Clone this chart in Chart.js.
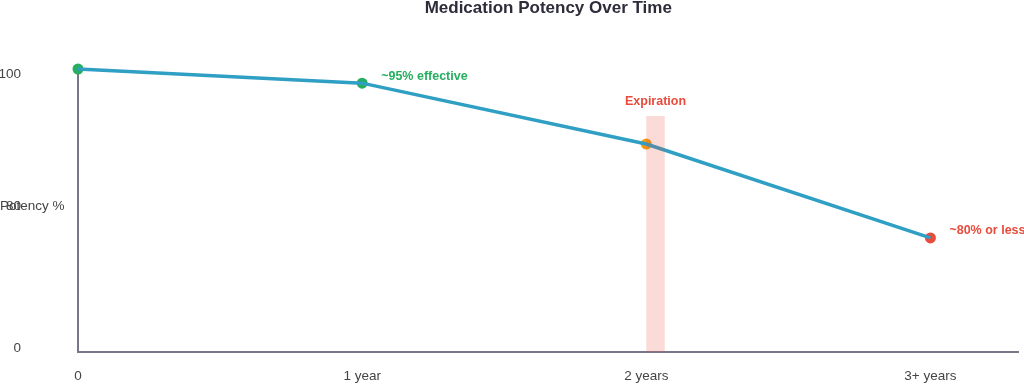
<!DOCTYPE html>
<html>
<head>
<meta charset="utf-8">
<script src="https://cdn.jsdelivr.net/npm/chart.js@4.4.0/dist/chart.umd.min.js"></script>
<style>
    html, body { margin: 0; padding: 0; background: #fff; overflow: hidden; }
    canvas { display: block; }
</style>
</head>
<body>
<canvas id="chart" width="1024" height="384"></canvas>
<script>
    // data
    var xLabels = ['0', '1 year', '2 years', '3+ years'];
    var xValues = [0, 1, 2, 3];
    var potency = [100, 95, 73.5, 40.3];
    var pointColors = ['#27ae60', '#27ae60', '#f39c12', '#e74c3c'];

    // y tick labels as they sit in the picture
    var yTickValues = [1.4, 51.6, 98.2];
    var yTickLabels = ['0', '80', '100'];

    // expiration band
    var expiryStart = 2.0;
    var expiryEnd = 2.065;
    var expiryTop = 83.4;

    // callouts
    var notes = [
        { index: 1, text: '~95% effective', color: '#27ae60' },
        { index: 3, text: '~80% or less', color: '#e74c3c' }
    ];

    var FONT = '"Liberation Sans", Arial, sans-serif';

    var points = [];
    for (var i = 0; i < xValues.length; i++) {
        points.push({ x: xValues[i], y: potency[i] });
    }

    var extrasPlugin = {
        id: 'extras',
        afterDatasetDraw: function (chart, args) {
            if (args.index !== 0) {
                return;
            }
            var ctx = chart.ctx;
            var xs = chart.scales.x;
            var ys = chart.scales.y;
            var left = xs.getPixelForValue(expiryStart);
            var right = xs.getPixelForValue(expiryEnd);
            var top = ys.getPixelForValue(expiryTop);
            var bottom = ys.getPixelForValue(0);

            ctx.save();
            ctx.fillStyle = 'rgba(231, 76, 60, 0.2)';
            ctx.fillRect(left, top, right - left, bottom - top);

            ctx.fillStyle = '#e74c3c';
            ctx.font = 'bold 12.5px ' + FONT;
            ctx.textAlign = 'center';
            ctx.textBaseline = 'middle';
            ctx.fillText('Expiration', (left + right) / 2, top - 14);
            ctx.restore();
        },
        afterDraw: function (chart) {
            var ctx = chart.ctx;
            var xs = chart.scales.x;
            var ys = chart.scales.y;

            ctx.save();
            ctx.font = 'bold 12.5px ' + FONT;
            ctx.textAlign = 'left';
            ctx.textBaseline = 'middle';
            for (var n = 0; n < notes.length; n++) {
                var note = notes[n];
                ctx.fillStyle = note.color;
                ctx.fillText(note.text,
                    xs.getPixelForValue(xValues[note.index]) + 19,
                    ys.getPixelForValue(potency[note.index]) - 7);
            }

            // horizontal axis title, as in the picture
            ctx.font = '13.5px ' + FONT;
            ctx.fillStyle = '#444';
            ctx.fillText('Potency %', 0, 206);
            ctx.restore();
        }
    };

    new Chart(document.getElementById('chart'), {
        type: 'line',
        data: {
            datasets: [
                {
                    data: points,
                    borderColor: '#2f9fc4',
                    borderWidth: 3.5,
                    pointRadius: 0,
                    tension: 0,
                    clip: false
                },
                {
                    data: points,
                    showLine: false,
                    pointRadius: 5.5,
                    pointBackgroundColor: pointColors,
                    pointBorderColor: pointColors,
                    pointBorderWidth: 0,
                    clip: false
                }
            ]
        },
        options: {
            responsive: false,
            animation: false,
            devicePixelRatio: 1,
            layout: { padding: { left: 0, right: 0, top: 0, bottom: 0 } },
            plugins: {
                legend: { display: false },
                tooltip: { enabled: false },
                title: {
                    display: true,
                    fullSize: false,
                    text: 'Medication Potency Over Time',
                    color: '#2c2c3a',
                    font: { family: FONT, size: 17, weight: 'bold' },
                    padding: { top: -2, bottom: 50.6 }
                }
            },
            scales: {
                x: {
                    type: 'linear',
                    min: 0,
                    max: 3.31,
                    grid: { display: false, drawTicks: false },
                    border: { display: true, color: '#77778a', width: 2 },
                    afterBuildTicks: function (scale) {
                        scale.ticks = xValues.map(function (v) { return { value: v }; });
                    },
                    afterFit: function (scale) {
                        scale.height = 32;
                        scale.paddingLeft = 0;
                        scale.paddingRight = 0;
                    },
                    ticks: {
                        padding: 16,
                        color: '#444',
                        font: { family: FONT, size: 13.5 },
                        maxRotation: 0,
                        autoSkip: false,
                        callback: function (value) {
                            return xLabels[xValues.indexOf(value)];
                        }
                    }
                },
                y: {
                    min: 0,
                    max: 100,
                    grid: { display: false, drawTicks: false },
                    border: { display: true, color: '#77778a', width: 2 },
                    afterBuildTicks: function (scale) {
                        scale.ticks = yTickValues.map(function (v) { return { value: v }; });
                    },
                    afterFit: function (scale) {
                        scale.width = 78;
                        scale.paddingTop = 0;
                        scale.paddingBottom = 0;
                    },
                    ticks: {
                        padding: 57,
                        color: '#444',
                        font: { family: FONT, size: 13.5 },
                        autoSkip: false,
                        callback: function (value) {
                            return yTickLabels[yTickValues.indexOf(value)];
                        }
                    }
                }
            }
        },
        plugins: [extrasPlugin]
    });
</script>
</body>
</html>
